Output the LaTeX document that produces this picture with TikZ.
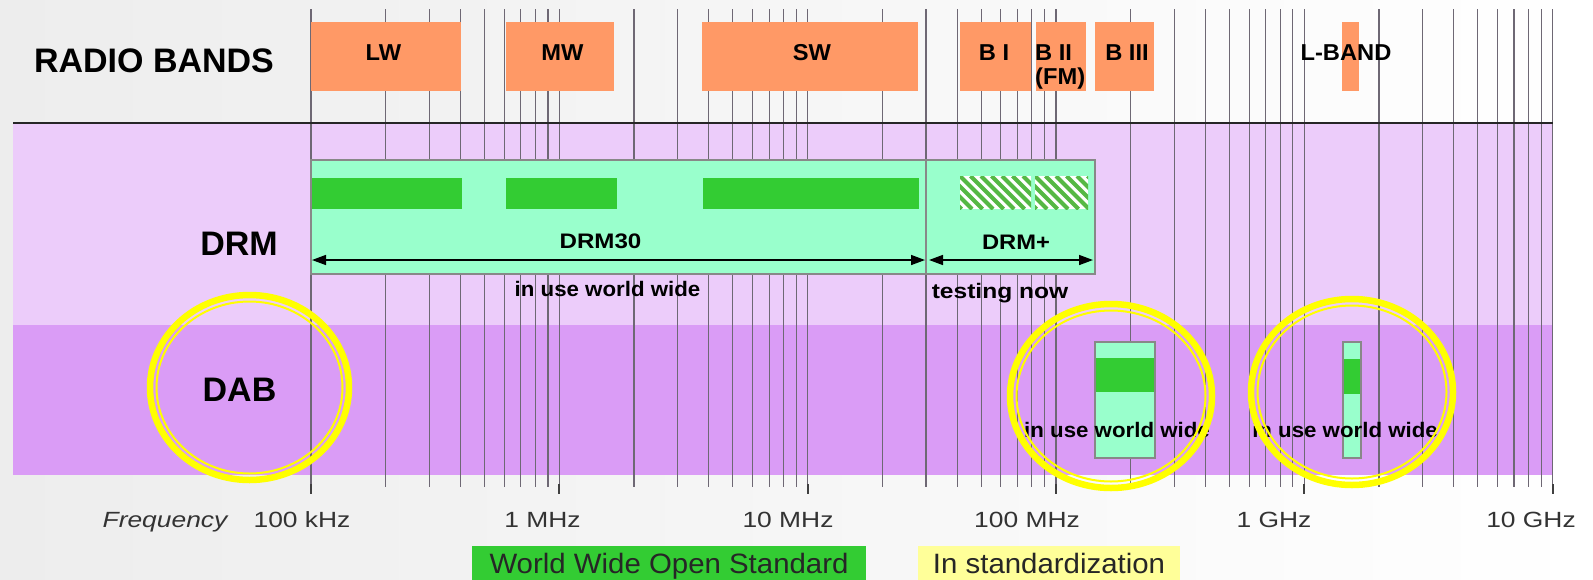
\documentclass[tikz,border=0pt]{standalone}
\usepackage{graphicx}
\usepackage{fontspec}
\setmainfont{Liberation Sans}
\usetikzlibrary{arrows.meta}
\definecolor{bgc}{HTML}{EDEDED}
\definecolor{orangeband}{HTML}{FF9966}
\definecolor{drmbg}{HTML}{ECCCFA}
\definecolor{dabbg}{HTML}{DA9CF6}
\definecolor{mint}{HTML}{99FFCC}
\definecolor{stdgreen}{HTML}{33CC33}
\definecolor{gridc}{HTML}{6E6874}
\definecolor{boxborder}{HTML}{888888}
\definecolor{ringc}{HTML}{FFFF00}
\definecolor{legyellow}{HTML}{FFFF99}
\definecolor{hatchc}{HTML}{55B844}
\newcommand\bigbold{\bfseries\fontsize{34}{38}\selectfont}
\newcommand\bandfont{\bfseries\fontsize{23}{26}\selectfont}
\newcommand\labfont{\bfseries\fontsize{21}{24}\selectfont}
\newcommand\axisfont{\fontsize{22}{26}\selectfont}
\newcommand\legfont{\fontsize{28}{32}\selectfont}
\newcommand\hs[2]{\scalebox{#1}[1]{#2}}
\begin{document}
\begin{tikzpicture}[x=1pt,y=-1pt,
  gridline/.style={draw=gridc, line width=1.2pt},
  bandbox/.style={fill=orangeband},
  txt/.style={anchor=base, inner sep=0pt, text=black},
  bandlabel/.style={txt, font=\bandfont},
  biglabel/.style={txt, font=\bigbold},
  smalllabel/.style={txt, font=\labfont},
  axislabel/.style={txt, font=\axisfont, text=black!80},
  mintbox/.style={fill=mint, draw=boxborder, line width=1.2pt},
  greenbar/.style={fill=stdgreen},
  dimarrow/.style={line width=1.5pt, {Triangle[length=14pt,width=10pt]}-{Triangle[length=14pt,width=10pt]}},
  ringthick/.style={draw=ringc, line width=6.5pt},
  ringthin/.style={draw=ringc, line width=2pt}]
\useasboundingbox (0,0) rectangle (1593,579);
\clip (0,0) rectangle (1593,579);
% background
\shade[left color=bgc, middle color=bgc!60!white, right color=white] (0,0) rectangle (1593,579);
% rows
\fill[drmbg] (13,123) rectangle (1553,325);
\fill[dabbg] (13,325) rectangle (1553,475);
% log grid
\foreach \d in {0,...,4}{
  \foreach \m in {1,...,9}{
    \pgfmathsetmacro\gx{311+248.3*(\d+ln(\m)/ln(10))}
    \draw[gridline] (\gx,9) -- (\gx,487);
  }
}
\draw[gridline] (1552.5,9) -- (1552.5,487);
\foreach \d in {0,...,5}{
  \pgfmathsetmacro\tx{311+248.3*\d}
  \draw[line width=2pt, black!75] (\tx,484) -- (\tx,494);
}
% separator line
\draw[line width=2pt, black!85] (13,123) -- (1553,123);
% radio bands
\fill[bandbox] (311,22) rectangle (461,91);
\fill[bandbox] (505.5,22) rectangle (614,91);
\fill[bandbox] (702,22) rectangle (918,91);
\fill[bandbox] (960,22) rectangle (1031,91);
\fill[bandbox] (1036,22) rectangle (1085.5,91);
\fill[bandbox] (1094.5,22) rectangle (1154,91);
\fill[bandbox] (1341.5,22) rectangle (1358.5,91);
\node[biglabel] (title) at (154,72.5) {RADIO BANDS};
\node[bandlabel] (lw) at (383.5,60.5) {\hs{1.03}{LW}};
\node[bandlabel] (mw) at (562.5,60.5) {\hs{1.03}{MW}};
\node[bandlabel] (sw) at (812,60.5) {\hs{1.03}{SW}};
\node[bandlabel] (b1) at (994,60.5) {\hs{1.03}{B I}};
\node[bandlabel, anchor=base west] (b2) at (1035,60.5) {\hs{1.03}{B II}};
\node[bandlabel, anchor=base west] (fm) at (1035,84) {\hs{1.03}{(FM)}};
\node[bandlabel] (b3) at (1127,60.5) {\hs{1.03}{B III}};
\node[bandlabel] (lband) at (1346,60.5) {\hs{1.03}{L-BAND}};
% DRM row
\node[biglabel] (drm) at (239,255) {DRM};
\filldraw[mintbox] (311,160) rectangle (1095,274);
\draw[draw=boxborder, line width=1.2pt] (926,160) -- (926,274);
\fill[greenbar] (312,178) rectangle (462,209);
\fill[greenbar] (506,178) rectangle (617,209);
\fill[greenbar] (703,178) rectangle (919,209);
\begin{scope}
  \clip (960,176) rectangle (1031,209);
  \fill[white] (960,176) rectangle (1031,209);
  \foreach \k in {0,...,12} \draw[hatchc, line width=4pt] ({918+10.5*\k},176) -- ({951+10.5*\k},209);
\end{scope}
\begin{scope}
  \clip (1035,176) rectangle (1088,209);
  \fill[white] (1035,176) rectangle (1088,209);
  \foreach \k in {0,...,10} \draw[hatchc, line width=4pt] ({993+10.5*\k},176) -- ({1026+10.5*\k},209);
\end{scope}
\coordinate (a30l) at (312,260);
\coordinate (a30r) at (925,260);
\coordinate (apl) at (929,260);
\coordinate (apr) at (1093,260);
\draw[dimarrow] (a30l) -- (a30r);
\draw[dimarrow] (apl) -- (apr);
\node[smalllabel] (drm30) at (600.5,248) {\hs{1.15}{DRM30}};
\node[smalllabel] (drmplus) at (1016,249) {\hs{1.13}{DRM+}};
\node[smalllabel] (use30) at (607.5,296) {\hs{1.06}{in use world wide}};
\node[smalllabel] (testing) at (1000,298) {\hs{1.17}{testing now}};
% DAB row
\node[biglabel] (dab) at (239.5,401.5) {DAB};
\filldraw[mintbox] (1095,342) rectangle (1155,458);
\fill[greenbar] (1096,358) rectangle (1154,392);
\filldraw[mintbox] (1343,342) rectangle (1361,458);
\fill[greenbar] (1344,359) rectangle (1360,394);
\node[smalllabel] (usedab1) at (1117,437) {\hs{1.06}{in use world wide}};
\node[smalllabel] (usedab2) at (1345,437) {\hs{1.06}{in use world wide}};
% highlight rings
\draw[ringthick] (249.5,387.5) ellipse [x radius=99.5, y radius=92.5];
\draw[ringthin] (249.5,387.5) ellipse [x radius=93, y radius=86];
\draw[ringthick] (1111,396) ellipse [x radius=101, y radius=92];
\draw[ringthin] (1111,396) ellipse [x radius=94.5, y radius=85.5];
\draw[ringthick] (1352,392) ellipse [x radius=101, y radius=93];
\draw[ringthin] (1352,392) ellipse [x radius=94.5, y radius=86.5];
% axis labels
\node[axislabel, font=\axisfont\itshape] (freq) at (165,527) {\hs{1.2}{Frequency}};
\node[axislabel] (f100k) at (302,527) {\hs{1.2}{100 kHz}};
\node[axislabel] (f1m) at (542.5,527) {\hs{1.2}{1 MHz}};
\node[axislabel] (f10m) at (788,527) {\hs{1.2}{10 MHz}};
\node[axislabel] (f100m) at (1027,527) {\hs{1.2}{100 MHz}};
\node[axislabel] (f1g) at (1274,527) {\hs{1.2}{1 GHz}};
\node[axislabel] (f10g) at (1531,527) {\hs{1.2}{10 GHz}};
% legend
\fill[stdgreen] (472,546) rectangle (866,590);
\fill[legyellow] (918,546) rectangle (1180,590);
\node[txt, font=\legfont, text=black!85] (legstd) at (669,573) {\hs{1.05}{World Wide Open Standard}};
\node[txt, font=\legfont, text=black!85] (legstz) at (1049,573) {\hs{1.05}{In standardization}};
\end{tikzpicture}
\end{document}
